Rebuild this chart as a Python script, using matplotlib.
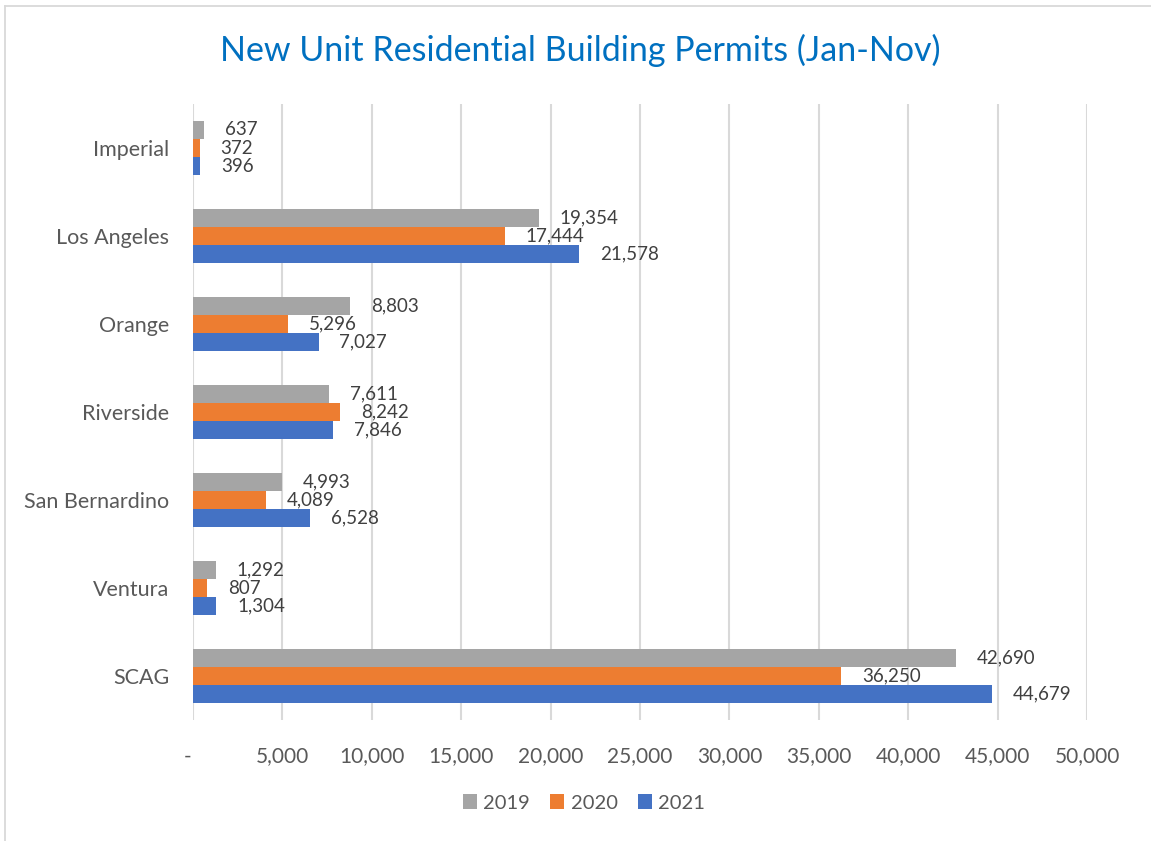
import numpy as np
import matplotlib.pyplot as plt
from matplotlib.lines import Line2D
from matplotlib.transforms import ScaledTranslation

plt.rcParams['font.family'] = ['Lato', 'DejaVu Sans']

regions = ['Imperial', 'Los Angeles', 'Orange', 'Riverside', 'San Bernardino', 'Ventura', 'SCAG']
permits_2019 = [637, 19354, 8803, 7611, 4993, 1292, 42690]
permits_2020 = [372, 17444, 5296, 8242, 4089, 807, 36250]
permits_2021 = [396, 21578, 7027, 7846, 6528, 1304, 44679]
years = ['2019', '2020', '2021']
colors = ['#A5A5A5', '#ED7D31', '#4472C4']
xticks = [0, 5000, 10000, 15000, 20000, 25000, 30000, 35000, 40000, 45000, 50000]

text_col = '#595959'
W, H = 1151, 841

fig = plt.figure(figsize=(W / 100, H / 100), dpi=100)
# only the top and left edges of the chart border are visible
fig.add_artist(Line2D([4.5 / W, 4.5 / W], [0, 1 - 5.5 / H], transform=fig.transFigure,
                      color='#D9D9D9', linewidth=1.3))
fig.add_artist(Line2D([4.5 / W, 1], [1 - 5.5 / H, 1 - 5.5 / H], transform=fig.transFigure,
                      color='#D9D9D9', linewidth=1.3))

# axes: x 193..1087 px, y 104..720 px
ax = fig.add_axes([193 / W, 1 - 720 / H, (1087 - 193) / W, (720 - 104) / H])

y = np.arange(len(regions))
h = 0.205
series = [permits_2019, permits_2020, permits_2021]
for i, (vals, c, name) in enumerate(zip(series, colors, years)):
    pos = y + (i - 1) * h
    bars = ax.barh(pos, vals, height=h, color=c, label=name)
    for b, v in zip(bars, vals):
        ax.annotate(f'{v:,}', (b.get_width(), b.get_y() + b.get_height() / 2),
                    xytext=(15, 0), textcoords='offset points', va='center', ha='left',
                    fontsize=13.5, color='#404040')

ax.set_ylim(len(regions) - 0.5, -0.5)
ax.set_xlim(0, 50000)
ax.set_yticks(y)
ax.set_yticklabels(regions, fontsize=15.5, color=text_col)
ax.set_xticks(xticks)
ax.set_xticklabels(['-'] + [f'{t:,}' for t in xticks[1:]], fontsize=15, color=text_col)
ax.tick_params(axis='y', length=0, pad=17)
ax.tick_params(axis='x', length=0, pad=19)
ax.grid(axis='x', color='#D9D9D9', linewidth=1.5)
ax.set_axisbelow(True)
for s in ax.spines.values():
    s.set_visible(False)

# the "-" zero label sits a little left of its gridline
zero_lbl = ax.get_xticklabels()[0]
zero_lbl.set_transform(zero_lbl.get_transform() + ScaledTranslation(-5 / 100, 0, fig.dpi_scale_trans))

fig.text(580 / W, 1 - 50 / H, 'New Unit Residential Building Permits (Jan-Nov)',
         ha='center', va='center', fontsize=24.5, color='#0070C0')

fig.legend(loc='center', bbox_to_anchor=(584 / W, 1 - 803 / H), ncol=3, frameon=False,
           fontsize=14.5, labelcolor=text_col, handlelength=0.7, handleheight=0.7,
           handletextpad=0.3, columnspacing=1.0)

fig.savefig('out.png', dpi=100)
